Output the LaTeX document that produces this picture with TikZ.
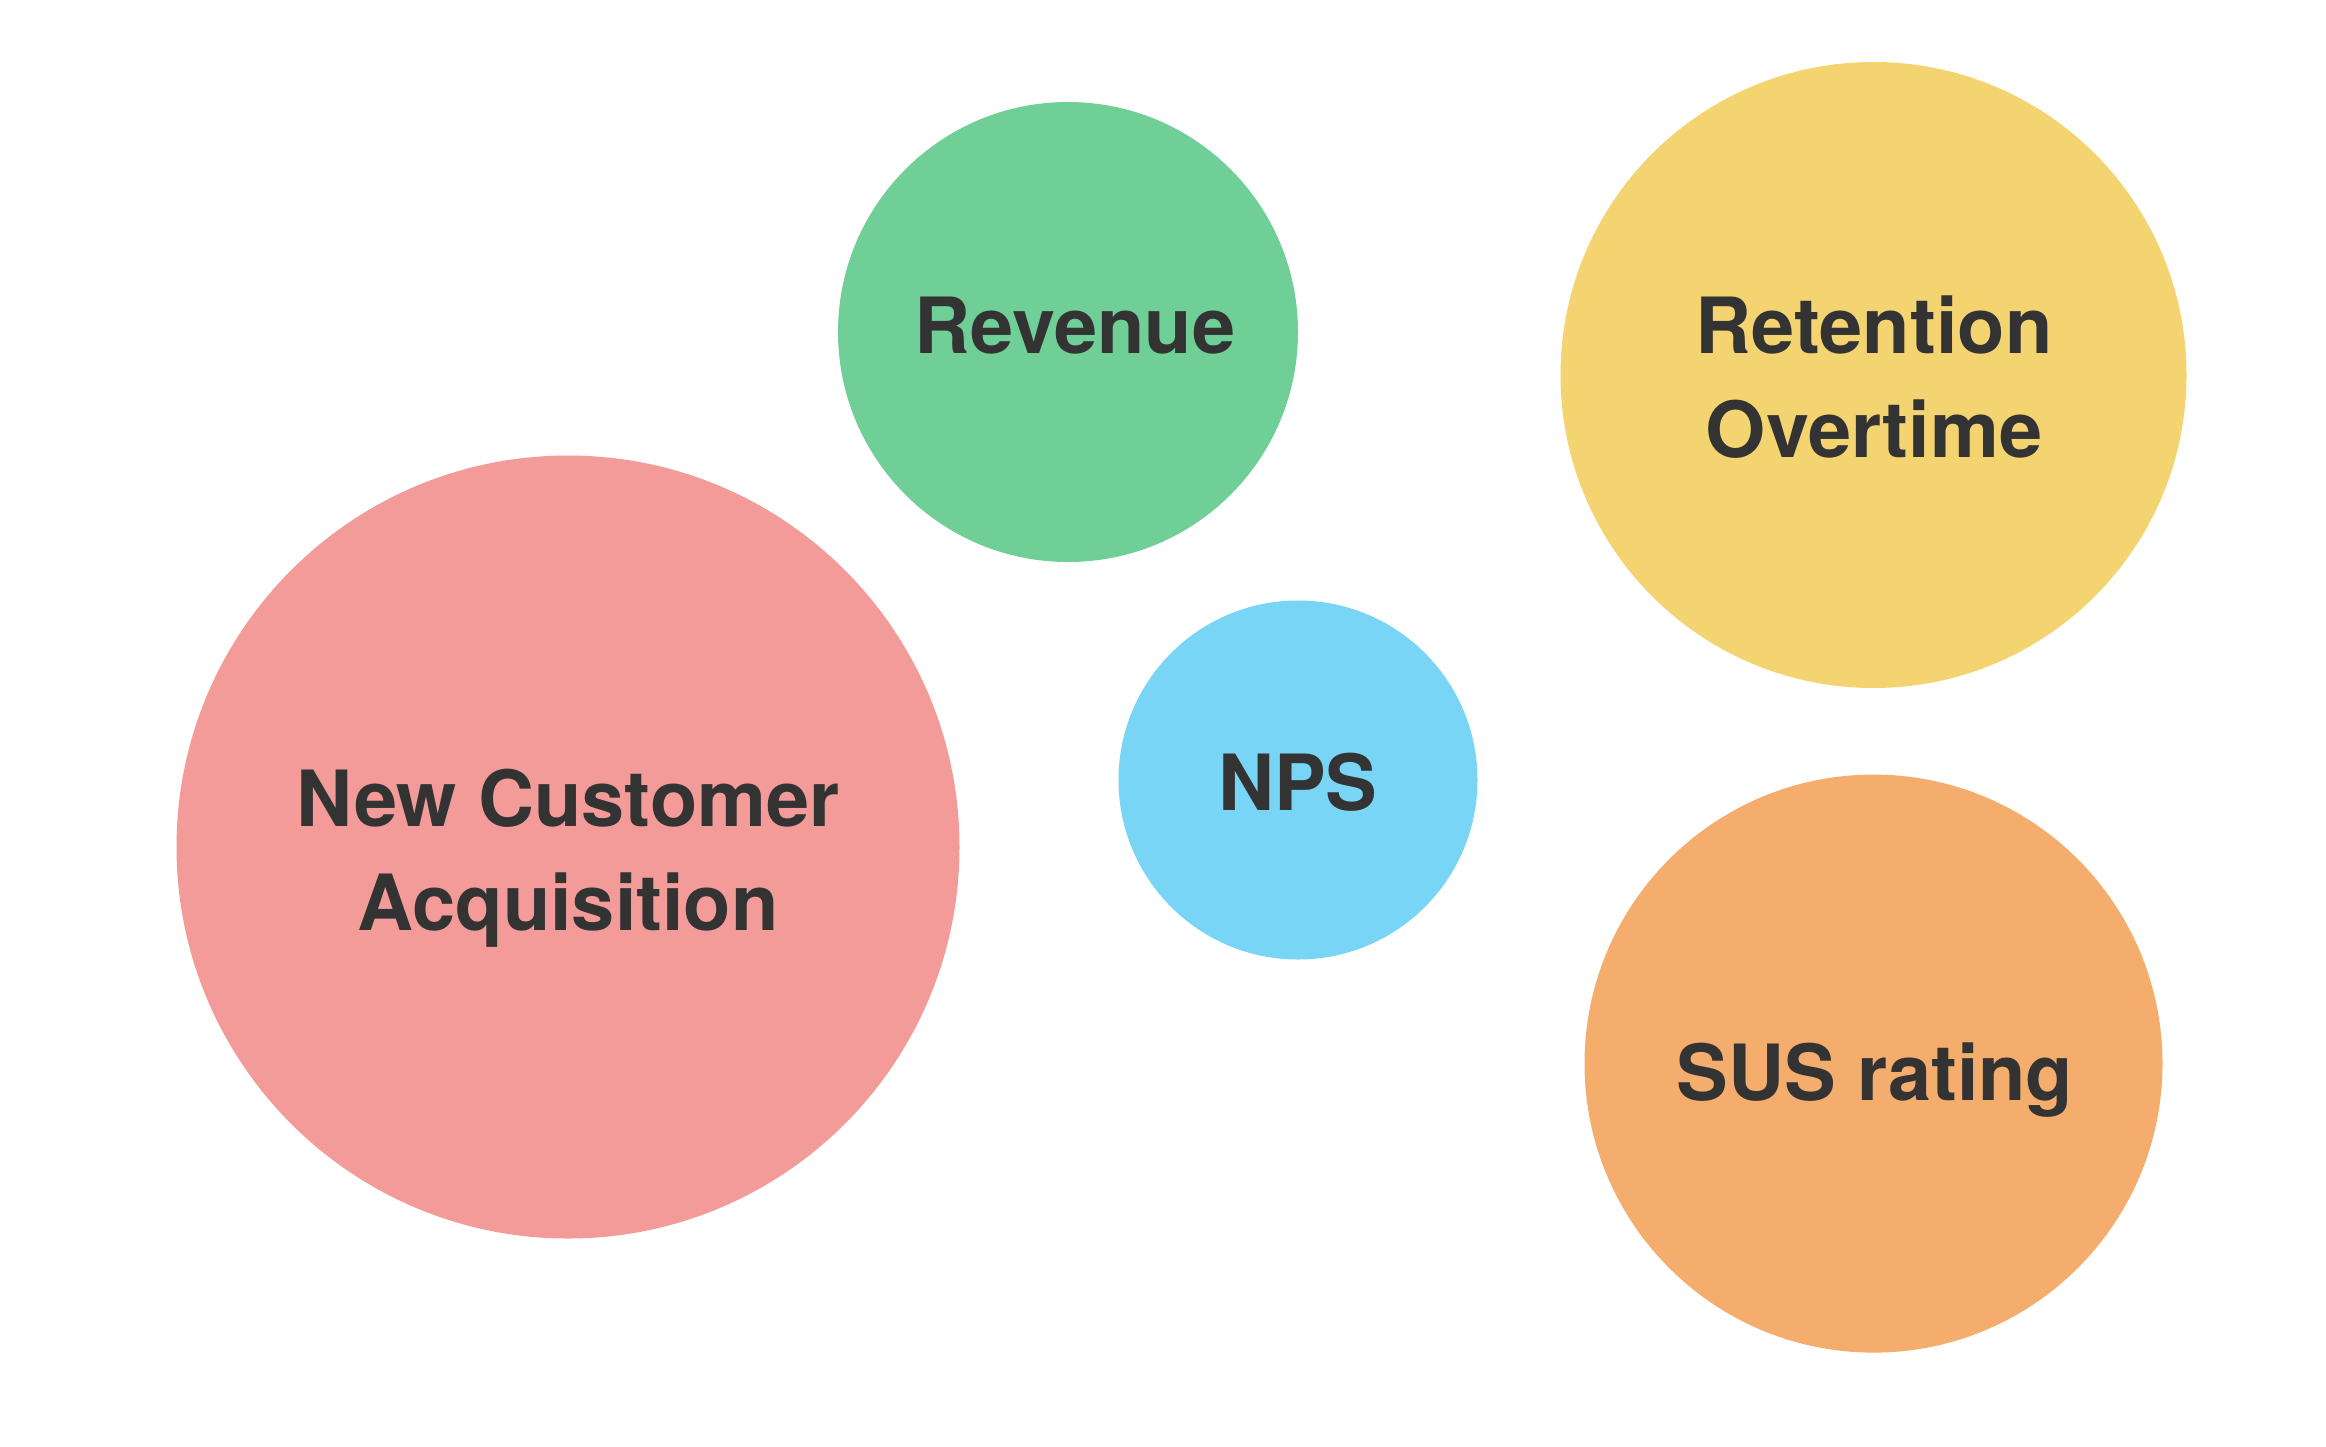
\documentclass[tikz,border=0pt]{standalone}
\usepackage{fontspec}
\setmainfont{TeX Gyre Heros}
\definecolor{cgreen}{HTML}{6FCF97}
\definecolor{cyellow}{HTML}{F4D470}
\definecolor{cred}{HTML}{F29B99}
\definecolor{cblue}{HTML}{78D5F5}
\definecolor{corange}{HTML}{F4AD6D}
\definecolor{ctext}{HTML}{333333}
\tikzset{
  bubble/.style={circle, inner sep=0pt, draw=none},
  lbl/.style={anchor=base, inner sep=0pt, text=ctext,
    font=\fontsize{77.5}{104}\selectfont\bfseries}}
\begin{document}
\begin{tikzpicture}[x=1pt,y=-1pt]
\fill[white] (0,0) rectangle (2326,1446);
\useasboundingbox (0,0) rectangle (2326,1446);
\node[bubble, fill=cgreen, minimum size=460pt] (rev) at (1068,332) {};
\node[bubble, fill=cyellow, minimum size=626pt] (ret) at (1873.5,375) {};
\node[bubble, fill=cred, minimum size=783pt] (ncq) at (568,847) {};
\node[bubble, fill=cblue, minimum size=359pt] (nps) at (1298,780) {};
\node[bubble, fill=corange, minimum size=578pt] (sus) at (1873.5,1063.6) {};
\node[lbl] (revt) at (1075,353) {Revenue};
\node[lbl] (rett1) at (1874,353) {Retention};
\node[lbl] (rett2) at (1874,457) {Overtime};
\node[lbl] (ncqt1) at (568,826) {New Customer};
\node[lbl] (ncqt2) at (568,930) {Acquisition};
\node[lbl] (npst) at (1298,810) {NPS};
\node[lbl] (sust) at (1875,1100) {SUS rating};
\end{tikzpicture}
\end{document}
